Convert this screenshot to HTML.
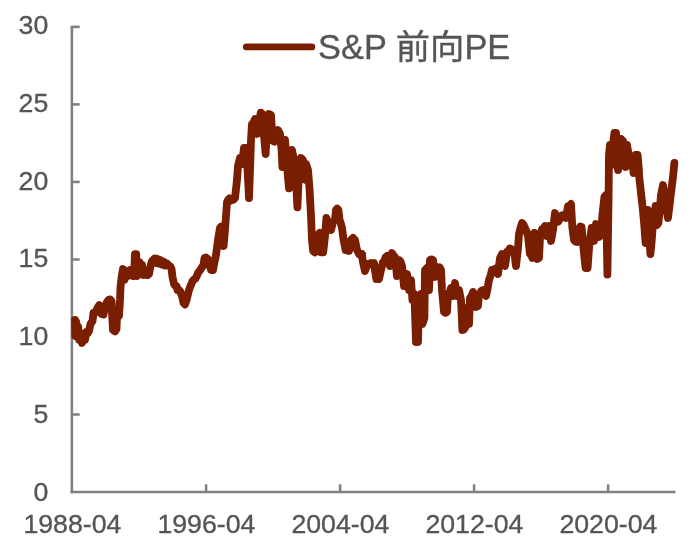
<!DOCTYPE html>
<html lang="zh"><head><meta charset="utf-8"><title>S&amp;P 前向PE</title>
<style>html,body{margin:0;padding:0;background:#fff;}body{width:700px;height:549px;overflow:hidden;position:relative;font-family:"Liberation Sans","Noto Sans CJK SC",sans-serif;}</style>
</head><body>
<svg width="700" height="549" viewBox="0 0 700 549" style="position:absolute;left:0;top:0">
<rect width="700" height="549" fill="#ffffff"/>
<g stroke="#808080" stroke-width="2.55" fill="none" stroke-linecap="butt">
<path d="M71.85 25.63 V493.27"/>
<path d="M70.45 492.00 H675.5"/>
<path d="M71.85 414.48 H79.7"/>
<path d="M71.85 336.97 H79.7"/>
<path d="M71.85 259.45 H79.7"/>
<path d="M71.85 181.93 H79.7"/>
<path d="M71.85 104.42 H79.7"/>
<path d="M71.85 26.90 H79.7"/>
<path d="M206.10 492.00 V484.3"/>
<path d="M340.10 492.00 V484.3"/>
<path d="M474.10 492.00 V484.3"/>
<path d="M608.10 492.00 V484.3"/>
</g>
<path d="M75.0 320.0 L75.3 336.0 L76.2 322.0 L77.2 337.0 L78.2 327.0 L79.3 340.0 L80.5 333.0 L82.0 343.0 L84.0 334.0 L85.0 340.0 L86.5 332.0 L87.8 333.0 L89.0 331.0 L90.5 324.0 L92.5 321.0 L93.5 313.0 L94.8 313.2 L96.0 311.0 L98.0 307.0 L99.2 305.1 L100.5 306.0 L101.5 314.0 L103.5 314.5 L105.0 307.0 L107.0 302.0 L109.0 299.5 L110.2 299.3 L111.5 301.0 L112.0 312.0 L113.0 330.0 L115.0 331.5 L116.5 329.0 L117.0 317.0 L119.0 316.0 L120.0 299.9 L120.5 287.0 L121.5 278.0 L123.0 269.0 L124.5 280.0 L126.5 271.0 L128.0 276.0 L130.0 270.0 L131.2 271.6 L132.5 276.0 L134.0 276.0 L135.0 254.2 L136.2 254.2 L136.8 276.0 L138.5 262.0 L139.7 262.3 L140.8 265.0 L142.0 265.0 L143.5 275.0 L144.8 274.1 L146.0 275.0 L147.5 275.2 L149.0 274.0 L150.5 266.0 L151.8 261.5 L153.0 260.0 L154.5 258.6 L156.0 263.0 L157.5 258.8 L159.0 263.6 L160.5 260.0 L162.0 264.6 L163.5 261.5 L165.0 265.6 L167.0 263.6 L169.0 266.0 L170.2 266.3 L171.5 269.0 L172.5 277.0 L174.0 284.0 L175.2 285.7 L176.5 286.0 L177.5 290.0 L178.8 289.8 L180.0 291.0 L182.0 296.0 L183.5 303.0 L185.0 304.5 L186.5 300.0 L188.5 292.0 L189.8 287.6 L191.0 285.0 L192.5 281.1 L194.0 279.5 L195.5 278.6 L197.0 275.5 L198.2 272.5 L199.5 271.0 L201.5 268.0 L203.5 265.0 L204.5 258.0 L206.0 257.5 L208.0 259.0 L209.5 265.0 L211.0 270.0 L213.0 270.0 L214.5 262.0 L216.0 255.0 L218.0 240.0 L220.0 228.0 L221.2 226.5 L222.4 227.0 L223.6 246.0 L225.0 230.0 L226.0 216.0 L227.0 202.0 L228.0 200.0 L229.3 198.5 L230.7 200.5 L232.0 199.0 L233.5 199.7 L235.0 198.0 L237.0 180.0 L238.0 166.0 L240.0 158.0 L242.0 164.0 L244.0 148.0 L246.0 148.0 L247.6 170.0 L249.0 198.0 L250.0 170.0 L251.0 140.0 L252.0 124.0 L253.5 122.8 L255.0 119.0 L257.0 134.0 L259.0 121.0 L260.8 112.6 L262.8 114.4 L264.0 136.0 L265.6 154.0 L267.0 130.0 L269.0 114.0 L271.0 115.0 L272.0 132.0 L273.0 141.0 L274.5 141.7 L276.0 140.0 L278.0 130.0 L280.0 134.0 L281.6 150.0 L282.4 167.0 L284.0 150.0 L285.0 140.0 L287.0 166.0 L289.0 188.4 L291.0 160.0 L292.0 150.0 L294.0 160.0 L296.0 180.0 L297.4 207.4 L299.0 170.0 L301.0 158.0 L303.0 160.0 L304.0 170.0 L305.6 180.0 L307.6 169.0 L306.0 164.0 L308.0 170.0 L309.6 190.0 L311.0 216.0 L312.0 240.0 L313.2 251.0 L314.8 252.4 L316.4 244.0 L318.0 235.0 L319.6 233.0 L321.0 252.4 L323.2 252.4 L325.0 236.0 L326.4 218.0 L327.7 222.0 L329.0 224.0 L331.0 230.0 L333.0 222.0 L335.0 220.0 L336.0 210.0 L337.2 208.7 L338.4 210.0 L339.6 220.0 L340.8 223.3 L342.0 228.0 L343.6 240.0 L345.6 250.0 L346.8 248.1 L348.0 244.0 L349.0 251.0 L351.0 240.0 L353.0 238.0 L355.0 240.0 L357.0 250.0 L359.0 254.0 L360.5 255.3 L362.0 254.0 L360.0 254.0 L362.0 256.0 L363.5 264.7 L365.0 271.0 L366.5 266.7 L368.0 264.0 L369.5 264.3 L371.0 263.0 L372.5 263.8 L374.0 263.0 L375.2 272.0 L376.4 279.0 L377.7 277.7 L379.0 279.0 L381.0 270.0 L383.0 262.0 L384.3 261.0 L385.7 257.0 L387.0 256.0 L388.5 262.2 L390.0 266.0 L392.0 253.0 L393.5 255.7 L395.0 257.0 L397.0 276.0 L399.0 260.0 L400.5 261.5 L402.0 266.0 L404.0 286.0 L405.5 281.3 L407.0 274.0 L409.0 290.0 L411.0 280.0 L412.4 300.0 L414.4 294.0 L416.0 342.0 L418.0 342.0 L419.0 298.0 L421.0 294.0 L422.4 324.0 L424.4 318.0 L425.0 270.0 L427.0 268.0 L429.0 290.0 L430.0 260.0 L431.5 259.3 L433.0 260.0 L435.0 277.0 L437.0 267.0 L438.3 269.2 L439.7 267.5 L441.0 270.0 L442.0 290.0 L444.0 312.0 L445.5 312.9 L447.0 312.0 L448.0 294.0 L449.5 292.4 L451.0 288.0 L453.0 296.0 L455.0 283.0 L457.0 296.0 L459.0 290.0 L461.0 300.0 L462.4 330.0 L463.7 329.7 L465.0 328.0 L467.0 308.0 L469.0 324.0 L470.0 298.0 L471.5 296.0 L473.0 292.0 L474.5 298.4 L476.0 307.0 L478.0 306.0 L479.0 294.0 L480.0 294.0 L481.5 290.7 L483.0 290.0 L484.5 291.7 L486.0 296.0 L487.5 289.0 L489.0 280.0 L490.5 275.7 L492.0 270.0 L493.5 270.5 L495.0 269.0 L496.5 272.9 L498.0 274.0 L500.0 258.0 L502.0 254.0 L503.5 261.4 L505.0 266.0 L507.0 252.0 L508.3 252.3 L509.7 248.5 L511.0 249.0 L512.5 251.0 L514.0 250.0 L516.0 266.0 L518.0 248.0 L519.0 234.0 L520.5 227.8 L522.0 223.0 L523.5 224.6 L525.0 228.0 L526.5 231.3 L528.0 236.0 L530.0 254.0 L531.2 255.1 L532.4 258.0 L534.4 233.0 L535.7 245.2 L537.0 259.0 L539.0 258.0 L540.0 238.0 L542.0 229.0 L543.5 228.7 L545.0 226.0 L547.0 236.0 L549.0 226.0 L551.0 241.0 L553.0 230.0 L555.0 213.0 L557.0 222.0 L558.5 221.5 L560.0 218.0 L561.5 215.4 L563.0 215.0 L564.5 217.5 L566.0 218.0 L568.0 206.0 L569.5 205.8 L571.0 204.0 L572.4 228.0 L574.0 240.0 L575.5 241.7 L577.0 242.0 L579.0 229.0 L580.3 226.5 L581.6 227.0 L583.2 245.0 L584.4 257.3 L585.6 268.0 L587.6 268.0 L589.4 243.0 L590.5 236.7 L591.6 228.0 L592.8 233.8 L594.0 241.0 L596.0 224.0 L597.5 229.4 L599.0 237.0 L601.0 235.0 L602.4 215.0 L604.4 197.0 L606.0 195.0 L607.4 274.6 L608.6 195.0 L609.0 155.0 L610.0 145.0 L611.8 165.0 L613.2 143.0 L614.4 133.0 L616.0 133.0 L617.0 155.0 L618.0 170.0 L619.6 155.0 L621.0 139.0 L623.0 141.0 L624.4 157.0 L625.6 167.0 L627.0 145.0 L629.0 157.0 L630.5 159.2 L632.0 159.0 L633.6 173.0 L635.6 155.0 L637.6 155.0 L639.0 171.0 L639.0 175.0 L641.0 193.0 L642.8 209.0 L644.4 227.0 L645.6 243.0 L647.6 210.0 L649.0 230.6 L650.4 254.0 L651.5 243.1 L652.5 229.8 L653.6 219.0 L655.6 206.0 L657.0 225.0 L658.4 223.0 L659.7 210.2 L661.0 195.0 L663.0 185.0 L664.3 193.8 L665.6 201.0 L666.8 211.0 L668.0 218.0 L670.0 201.0 L672.0 185.0 L673.2 175.1 L674.4 163.0" fill="none" stroke="#7a1e02" stroke-width="7.8" stroke-linejoin="round" stroke-linecap="round"/>
<path d="M246.4 46.9 H311.8" fill="none" stroke="#7a1e02" stroke-width="6.9" stroke-linecap="round"/>
<g font-family="'Liberation Sans', 'Noto Sans CJK SC', sans-serif" fill="#555555" stroke="#555555" stroke-width="0.35">
<text x="318.1" y="58.6" font-size="34.35">S&amp;P <tspan dy="0.8">前向</tspan><tspan dy="-0.8">PE</tspan></text>
<text x="48.3" y="500.70" font-size="26.7" text-anchor="end">0</text>
<text x="48.3" y="422.95" font-size="26.7" text-anchor="end">5</text>
<text x="48.3" y="345.20" font-size="26.7" text-anchor="end">10</text>
<text x="48.3" y="267.45" font-size="26.7" text-anchor="end">15</text>
<text x="48.3" y="189.70" font-size="26.7" text-anchor="end">20</text>
<text x="48.3" y="111.95" font-size="26.7" text-anchor="end">25</text>
<text x="48.3" y="34.20" font-size="26.7" text-anchor="end">30</text>
<text x="72.40" y="533" font-size="26.7" text-anchor="middle">1988-04</text>
<text x="206.40" y="533" font-size="26.7" text-anchor="middle">1996-04</text>
<text x="340.40" y="533" font-size="26.7" text-anchor="middle">2004-04</text>
<text x="474.40" y="533" font-size="26.7" text-anchor="middle">2012-04</text>
<text x="608.40" y="533" font-size="26.7" text-anchor="middle">2020-04</text>
</g>
</svg>
</body></html>
